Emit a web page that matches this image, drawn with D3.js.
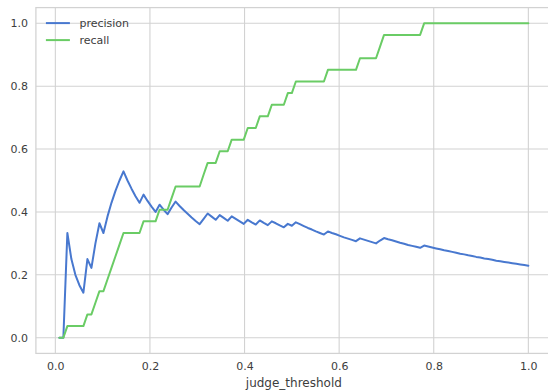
<!DOCTYPE html>
<html>
<head>
<meta charset="utf-8">
<script src="https://cdn.jsdelivr.net/npm/d3@7"></script>
<style>
  body { margin: 0; background: #fff; }
  svg { display: block; font-family: "DejaVu Sans", sans-serif; }
</style>
</head>
<body>
<svg></svg>
<script>
const width = 548;
const height = 392;

// thresholds sampled evenly (1/118 .. 1)
const thresholds = d3.range(1, 119).map(i => i / 118);

const precision = [
  0, 0, 0.333, 0.25, 0.2, 0.167, 0.143, 0.25, 0.222, 0.3,
  0.364, 0.333, 0.385, 0.429, 0.467, 0.5, 0.529, 0.5, 0.474, 0.45,
  0.429, 0.455, 0.435, 0.417, 0.4, 0.423, 0.407, 0.393, 0.414, 0.433,
  0.419, 0.406, 0.394, 0.382, 0.371, 0.361, 0.378, 0.395, 0.385, 0.375,
  0.39, 0.381, 0.372, 0.386, 0.378, 0.37, 0.362, 0.375, 0.367, 0.36,
  0.373, 0.365, 0.358, 0.37, 0.364, 0.357, 0.351, 0.362, 0.356, 0.367,
  0.361, 0.355, 0.349, 0.344, 0.338, 0.333, 0.328, 0.338, 0.333, 0.329,
  0.324, 0.319, 0.315, 0.311, 0.307, 0.316, 0.312, 0.308, 0.304, 0.3,
  0.309, 0.317, 0.313, 0.31, 0.306, 0.302, 0.299, 0.295, 0.292, 0.289,
  0.286, 0.293, 0.29, 0.287, 0.284, 0.281, 0.278, 0.276, 0.273, 0.27,
  0.267, 0.265, 0.262, 0.26, 0.257, 0.255, 0.252, 0.25, 0.248, 0.245,
  0.243, 0.241, 0.239, 0.237, 0.235, 0.233, 0.231, 0.229
];

const recall = [
  0, 0, 0.037, 0.037, 0.037, 0.037, 0.037, 0.074, 0.074, 0.111,
  0.148, 0.148, 0.185, 0.222, 0.259, 0.296, 0.333, 0.333, 0.333, 0.333,
  0.333, 0.37, 0.37, 0.37, 0.37, 0.407, 0.407, 0.407, 0.444, 0.481,
  0.481, 0.481, 0.481, 0.481, 0.481, 0.481, 0.519, 0.556, 0.556, 0.556,
  0.593, 0.593, 0.593, 0.63, 0.63, 0.63, 0.63, 0.667, 0.667, 0.667,
  0.704, 0.704, 0.704, 0.741, 0.741, 0.741, 0.741, 0.778, 0.778, 0.815,
  0.815, 0.815, 0.815, 0.815, 0.815, 0.815, 0.815, 0.852, 0.852, 0.852,
  0.852, 0.852, 0.852, 0.852, 0.852, 0.889, 0.889, 0.889, 0.889, 0.889,
  0.926, 0.963, 0.963, 0.963, 0.963, 0.963, 0.963, 0.963, 0.963, 0.963,
  0.963, 1, 1, 1, 1, 1, 1, 1, 1, 1,
  1, 1, 1, 1, 1, 1, 1, 1, 1, 1,
  1, 1, 1, 1, 1, 1, 1, 1
];

const seriesNames = ['precision', 'recall'];
const seriesColors = ['#4878cf', '#6acc65'];
const xTicks = [0, 0.2, 0.4, 0.6, 0.8, 1.0];
const yTicks = [0, 0.2, 0.4, 0.6, 0.8, 1.0];

const plot = { left: 35.9, right: 551.8, top: 7.6, bottom: 353.4 };
const textColor = '#3d3d3d';

const svg = d3.select('svg')
  .attr('width', width)
  .attr('height', height)

// matplotlib style 5% margins
const xExt = d3.extent(thresholds)
const xPad = (xExt[1] - xExt[0]) * 0.05
const x = d3.scaleLinear()
  .domain([xExt[0] - xPad, xExt[1] + xPad])
  .range([plot.left, plot.right])

const y = d3.scaleLinear()
  .domain([-0.05, 1.05])
  .range([plot.bottom, plot.top])

const grid = svg.append('g')
  .attr('stroke', '#d2d2d2')
  .attr('stroke-width', 1.1)

grid.selectAll('.gx')
  .data(xTicks)
  .join('line')
    .attr('x1', d => x(d)).attr('x2', d => x(d))
    .attr('y1', plot.top).attr('y2', plot.bottom)

grid.selectAll('.gy')
  .data(yTicks)
  .join('line')
    .attr('class', 'gy')
    .attr('x1', plot.left).attr('x2', plot.right)
    .attr('y1', d => y(d)).attr('y2', d => y(d))

svg.append('rect')
  .attr('x', plot.left)
  .attr('y', plot.top)
  .attr('width', plot.right - plot.left)
  .attr('height', plot.bottom - plot.top)
  .attr('fill', 'none')
  .attr('stroke', '#d2d2d2')
  .attr('stroke-width', 1.25)

const xAxis = d3.axisBottom(x).tickValues(xTicks).tickFormat(d3.format('.1f')).tickSize(0).tickPadding(9)
const yAxis = d3.axisLeft(y).tickValues(yTicks).tickFormat(d3.format('.1f')).tickSize(0).tickPadding(8)

svg.append('g')
  .attr('transform', `translate(0,${plot.bottom})`)
  .call(xAxis)
  .call(g => g.select('.domain').remove())
  .selectAll('text')
    .attr('font-size', 11)
    .attr('font-family', 'DejaVu Sans')
    .attr('fill', textColor)

svg.append('g')
  .attr('transform', `translate(${plot.left},0)`)
  .call(yAxis)
  .call(g => g.select('.domain').remove())
  .selectAll('text')
    .attr('font-size', 11)
    .attr('font-family', 'DejaVu Sans')
    .attr('fill', textColor)

svg.append('text')
  .attr('x', (plot.left + plot.right) / 2)
  .attr('y', 387)
  .attr('text-anchor', 'middle')
  .attr('font-size', 12)
  .attr('fill', textColor)
  .text('judge_threshold')

const line = d3.line()
  .x((d, i) => x(thresholds[i]))
  .y(d => y(d))

const series = [precision, recall]

svg.append('g')
  .selectAll('path')
  .data(series)
  .join('path')
    .attr('d', d => line(d))
    .attr('fill', 'none')
    .attr('stroke', (d, i) => seriesColors[i])
    .attr('stroke-width', 2)
    .attr('stroke-linejoin', 'round')
    .attr('stroke-linecap', 'round')

const legend = svg.append('g')
  .attr('transform', `translate(${plot.left + 10},${plot.top + 15.5})`)

const items = legend.selectAll('g')
  .data(seriesNames)
  .join('g')
    .attr('transform', (d, i) => `translate(0,${i * 17})`)

items.append('line')
  .attr('x1', 0).attr('x2', 24)
  .attr('stroke', (d, i) => seriesColors[i])
  .attr('stroke-width', 2)

items.append('text')
  .attr('x', 33.5)
  .attr('dy', '0.35em')
  .attr('font-size', 11)
  .attr('fill', textColor)
  .text(d => d)
</script>
</body>
</html>
